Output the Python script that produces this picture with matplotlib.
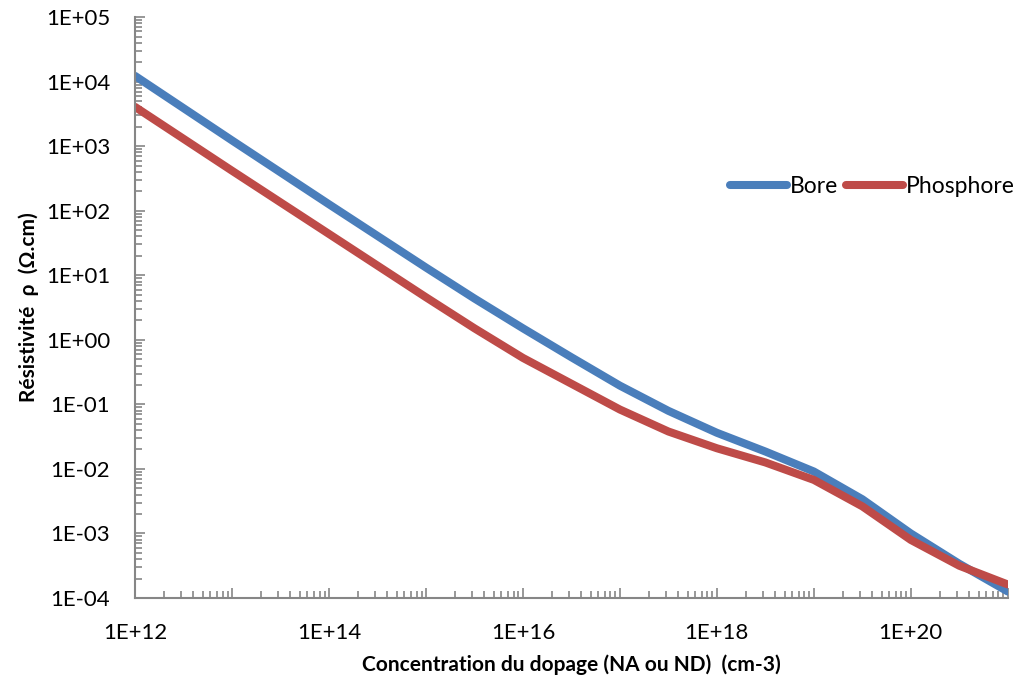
import numpy as np
import matplotlib.pyplot as plt
from matplotlib.ticker import LogLocator, FuncFormatter, NullFormatter

plt.rcParams['font.family'] = ['Lato', 'DejaVu Sans']

# concentration de dopage (cm-3), en log10
log_conc = [12, 13, 14, 15, 15.5, 16, 16.5, 17, 17.5, 18, 18.5, 19, 19.5, 20, 20.5, 21]
# résistivité (ohm.cm)
bore = [1.23e4, 1.23e3, 126, 13.2, 4.37, 1.51, 0.537, 0.195, 0.0794, 0.0363, 0.0186,
        0.00912, 0.00339, 1.0e-3, 3.39e-4, 1.26e-4]
phosphore = [4.07e3, 417, 43.7, 4.57, 1.51, 0.525, 0.209, 0.0832, 0.038, 0.0209, 0.0126,
             0.00676, 0.00263, 7.94e-4, 3.16e-4, 1.62e-4]

conc = 10.0 ** np.array(log_conc)

fig = plt.figure(figsize=(10.19, 6.85), dpi=100)
ax = fig.add_axes([0.1325, 0.127, 0.8565, 0.848])

ax.plot(conc, bore, color='#4a7ebb', lw=5.8, solid_capstyle='round',
        solid_joinstyle='round', label='Bore')
ax.plot(conc, phosphore, color='#be4b48', lw=5.8, solid_capstyle='round',
        solid_joinstyle='round', label='Phosphore')

ax.set_xscale('log')
ax.set_yscale('log')
ax.set_xlim(1e12, 1e21)
ax.set_ylim(1e-4, 1e5)

grey = '#868686'
for s in ['top', 'right']:
    ax.spines[s].set_visible(False)
for s in ['left', 'bottom']:
    ax.spines[s].set_color(grey)
    ax.spines[s].set_linewidth(1.5)

ax.xaxis.set_major_locator(LogLocator(base=10, numticks=20))
ax.yaxis.set_major_locator(LogLocator(base=10, numticks=20))
ax.xaxis.set_minor_locator(LogLocator(base=10, subs=np.arange(2, 10), numticks=20))
ax.yaxis.set_minor_locator(LogLocator(base=10, subs=np.arange(2, 10), numticks=20))
ax.xaxis.set_minor_formatter(NullFormatter())
ax.yaxis.set_minor_formatter(NullFormatter())


def fmt_x(v, pos):
    e = int(round(np.log10(v)))
    if e % 2:
        return ''
    return '1E+%02d' % e


def fmt_y(v, pos):
    e = int(round(np.log10(v)))
    return '1E%s%02d' % ('+' if e >= 0 else '-', abs(e))


ax.xaxis.set_major_formatter(FuncFormatter(fmt_x))
ax.yaxis.set_major_formatter(FuncFormatter(fmt_y))

ax.tick_params(which='both', direction='in', color=grey, width=1.2, labelsize=16)
ax.tick_params(which='major', length=7)
ax.tick_params(which='minor', length=5)
ax.tick_params(axis='x', pad=18)
ax.tick_params(axis='y', pad=18)

ax.set_xlabel('Concentration du dopage (NA ou ND)  (cm-3)', fontsize=15,
              fontweight='bold', labelpad=8)
ax.set_ylabel('Résistivité  ρ  (Ω.cm)', fontsize=15, fontweight='bold', labelpad=5)

fig.legend(loc='center', bbox_to_anchor=(0.856, 0.728), ncol=2, frameon=False,
           fontsize=16.5, handlelength=2.5, handletextpad=0.1, columnspacing=0.35)

fig.savefig('out.png', dpi=100)
